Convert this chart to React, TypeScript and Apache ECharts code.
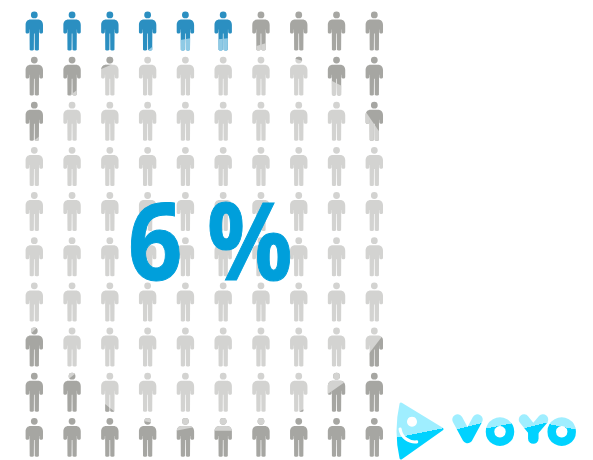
import React, { useEffect, useRef } from "react";
import * as echarts from "echarts";

// Base tone of each person, one string per row: b = blue, g = grey, l = light grey
const toneRows = [
  "bbbbbbgggg",
  "ggllllllgg",
  "gllllllllg",
  "llllllllll",
  "llllllllll",
  "llllllllll",
  "llllllllll",
  "glllllllll",
  "ggllllllgg",
  "gggggggggg",
];
const columns = ["1", "2", "3", "4", "5", "6", "7", "8", "9", "10"];
const rows = ["1", "2", "3", "4", "5", "6", "7", "8", "9", "10"];
const headline = "6 %";

// Partly filled people: row, column, overlay tone, side of the cut it covers,
// height of the cut as a share of the figure, and slope of the cut
const partials: [number, number, string, string, number, number][] = [
  [0, 3, "p", "below", 1.0, -0.8],
  [0, 4, "p", "below", 0.71, -0.18],
  [0, 5, "p", "below", 0.7, -0.1],
  [0, 6, "l", "below", 0.85, -0.3],
  [1, 1, "l", "below", 0.95, -0.7],
  [1, 2, "g", "above", 0.22, -0.44],
  [1, 7, "g", "above", 0.08, 0.3],
  [1, 8, "l", "below", 0.68, 0.5],
  [2, 0, "l", "below", 0.99, -0.8],
  [2, 9, "l", "below", 0.58, 1.47],
  [7, 0, "l", "above", 0.07, -1],
  [7, 9, "g", "below", 0.49, -1.3],
  [8, 1, "l", "above", 0.09, -0.8],
  [8, 2, "g", "below", 0.9, 0.8],
  [8, 7, "g", "below", 1.0, -0.5],
  [8, 8, "l", "above", 0.39, -0.7],
  [9, 3, "l", "above", 0.1, 0.2],
  [9, 4, "l", "above", 0.28, -0.2],
  [9, 5, "l", "above", 0.33, 0],
  [9, 6, "l", "above", 0.19, 0],
];

const toneColors: Record<string, string> = {
  b: "#2b8fc1",
  p: "#8fcae5",
  g: "#a6a6a2",
  l: "#d3d3d1",
};

const FIGURE_HEIGHT = 39;

// Figure outline with the head top at y = 0 and the body centred on x = 0
const personPath =
  "M0 0A3.4 3.4 0 1 1 0 6.8A3.4 3.4 0 1 1 0 0Z" +
  "M-3.6 8L3.6 8C6.8 8 8.7 10.2 8.7 13.4L8.7 20.4C8.7 22.4 5.2 22.4 5 20.4L4.95 18L4.75 18" +
  "L4.6 38.2C4.6 39.2 0.6 39.2 0.45 38.2L0.3 22L-0.3 22L-0.45 38.2C-0.6 39.2 -4.6 39.2 -4.6 38.2" +
  "L-4.75 18L-4.95 18L-5 20.4C-5.2 22.4 -8.7 22.4 -8.7 20.4L-8.7 13.4C-8.7 10.2 -6.8 8 -3.6 8Z";

echarts.graphic.registerShape(
  "personShape",
  echarts.graphic.extendPath(personPath, {}) as any
);
echarts.graphic.registerShape(
  "logoMark",
  echarts.graphic.extendPath("M401 404Q395 431 401 458L442 429Z", {}) as any
);

// Two-tone fill for the logo: pale above the cut, saturated below it
const split = (x1: number, y1: number, x2: number, y2: number) =>
  new echarts.graphic.LinearGradient(
    x1,
    y1,
    x2,
    y2,
    [
      { offset: 0, color: "#9feeff" },
      { offset: 0.5, color: "#9feeff" },
      { offset: 0.5, color: "#00d2ff" },
      { offset: 1, color: "#00d2ff" },
    ],
    true
  );

const buildCells = () => {
  const cells: number[][] = [];
  toneRows.forEach((line, r) => {
    line.split("").forEach((_, c) => cells.push([c, r]));
  });
  return cells;
};

const renderPerson = (_: any, api: any) => {
  const c = api.value(0);
  const r = api.value(1);
  const [px, py] = api.coord([c, r]);
  const x = px;
  const y = py - FIGURE_HEIGHT / 2;
  const base = {
    type: "personShape",
    x,
    y,
    style: { fill: toneColors[toneRows[r][c]] },
  };
  const partial = partials.find((p) => p[0] === r && p[1] === c);
  if (!partial) return base;
  const [, , tone, side, level, slope] = partial;
  const cut = (u: number) => level * FIGURE_HEIGHT + slope * u;
  const edge = side === "below" ? 300 : -300;
  return {
    type: "group",
    children: [
      base,
      {
        type: "personShape",
        x,
        y,
        style: { fill: toneColors[tone] },
        clipPath: {
          type: "polygon",
          shape: {
            points: [
              [-12, cut(-12)],
              [12, cut(12)],
              [12, edge],
              [-12, edge],
            ],
          },
        },
      },
    ],
  };
};

const logoStroke = (points: number[][], fill: any) => ({
  type: "polyline",
  z: 20,
  shape: { points },
  style: { stroke: fill, fill: "none", lineWidth: 10.5, lineCap: "round", lineJoin: "round" },
});

export default function App() {
  const ref = useRef<HTMLDivElement>(null);
  useEffect(() => {
    const chart = echarts.init(ref.current!, undefined, { renderer: "svg" });
    chart.setOption({
      animation: false,
      backgroundColor: "#ffffff",
      grid: { left: 15.4, top: 8.4, width: 377.8, height: 456.7 },
      xAxis: { type: "category", data: columns, show: false },
      yAxis: { type: "category", data: rows, inverse: true, show: false },
      series: [
        {
          type: "custom",
          data: buildCells(),
          encode: { x: 0, y: 1 },
          renderItem: renderPerson,
          clip: false,
          silent: true,
        },
      ],
      graphic: [
        {
          type: "text",
          z: 30,
          x: 128,
          y: 184,
          scaleX: 0.88,
          style: {
            text: headline,
            fill: "#009fdb",
            stroke: "#009fdb",
            lineWidth: 1,
            font: "bold 108px 'Open Sans'",
          },
        },
        {
          type: "logoMark",
          z: 20,
          style: {
            fill: split(421, 428, 422.8, 437),
            stroke: split(421, 428, 422.8, 437),
            lineWidth: 3,
            lineJoin: "round",
          },
        },
        { type: "circle", z: 21, shape: { cx: 412, cy: 421.7, r: 5 }, style: { fill: "#ffffff" } },
        {
          type: "arc",
          z: 21,
          shape: { cx: 415, cy: 427, r: 15, startAngle: 1.46, endAngle: 3.0 },
          style: { stroke: "#ffffff", fill: "none", lineWidth: 3.2, lineCap: "round" },
        },
        logoStroke([[457.5, 419.5], [467.5, 438], [477.5, 419.5]], split(466, 425, 467, 429)),
        {
          type: "circle",
          z: 20,
          shape: { cx: 500, cy: 431.7, r: 10 },
          style: { fill: "none", stroke: split(500, 423, 501, 428), lineWidth: 8.5 },
        },
        logoStroke([[524, 419.5], [533.3, 431]], split(532, 424, 533, 428)),
        logoStroke([[543, 419.5], [533.3, 431]], split(532, 424, 533, 428)),
        logoStroke([[533.3, 431], [533.3, 438.5]], split(532, 424, 533, 428)),
        {
          type: "circle",
          z: 20,
          shape: { cx: 561.7, cy: 431.7, r: 10 },
          style: { fill: "none", stroke: split(562, 424, 561, 429), lineWidth: 8.5 },
        },
      ],
    });
    return () => chart.dispose();
  }, []);
  return <div ref={ref} style={{ position: "absolute", left: 0, top: 0, width: 593, height: 460 }} />;
}
